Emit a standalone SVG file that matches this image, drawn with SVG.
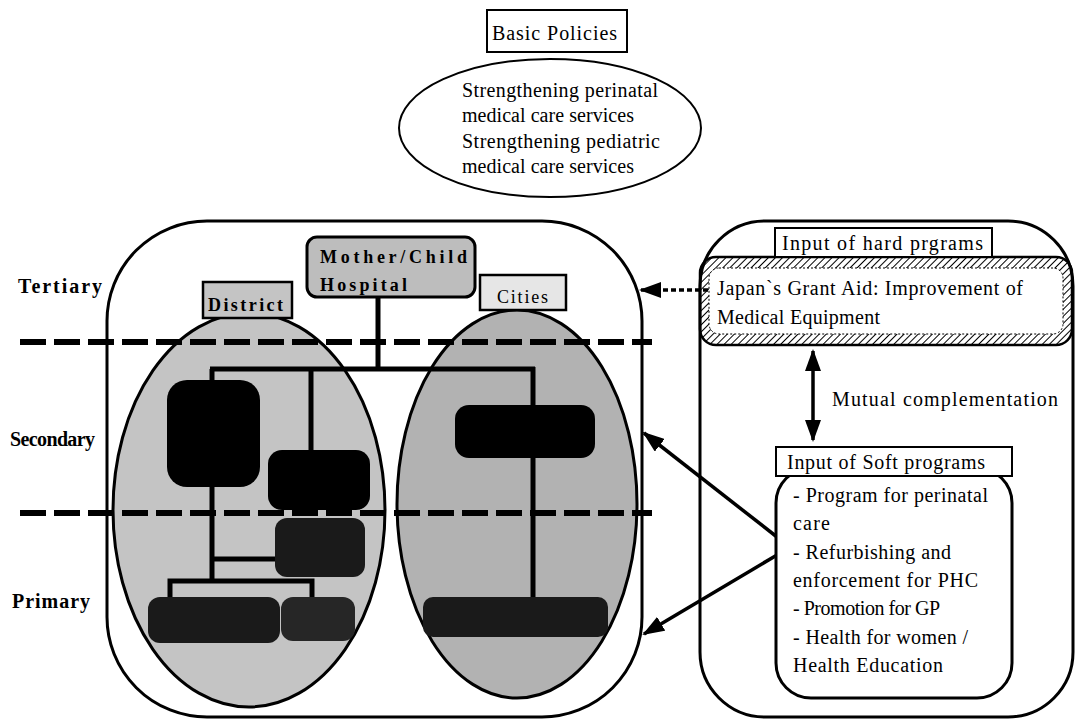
<svg xmlns="http://www.w3.org/2000/svg" width="1075" height="722" viewBox="0 0 1075 722">
<style>
  text { font-family: "Liberation Serif", "Times New Roman", serif; font-size: 20px; fill: #000; }
  .b { font-weight: bold; }
  .lbl { font-size: 18px; }
  .frame { fill: #fff; stroke: #000; stroke-width: 3; }
  .box { fill: #fff; stroke: #000; stroke-width: 2; }
  .conn { stroke: #000; stroke-width: 5; fill: none; }
  .dash { stroke: #000; stroke-width: 6; stroke-dasharray: 26 8; fill: none; }
  .arrow { stroke: #000; stroke-width: 3.5; fill: none; }
  .blk { fill: #000; }
  .dark { fill: #1a1a1a; }
</style>
<defs>
  <marker id="ah" viewBox="0 0 22 16" refX="20" refY="8" markerWidth="22" markerHeight="16" orient="auto-start-reverse" markerUnits="userSpaceOnUse">
    <path d="M0,0 L22,8 L0,16 z" fill="#000"/>
  </marker>
  <pattern id="hatch" width="5" height="5" patternUnits="userSpaceOnUse" patternTransform="rotate(45)">
    <line x1="0" y1="0" x2="0" y2="5" stroke="#000" stroke-width="2"/>
  </pattern>
</defs>
<rect width="1075" height="722" fill="#fff"/>

<g id="basic-policies">
  <rect class="box" x="487" y="10" width="140" height="42"/>
  <text x="492" y="40" textLength="125" lengthAdjust="spacing">Basic Policies</text>
</g>
<g id="policies">
  <ellipse cx="550" cy="128" rx="151" ry="69" fill="#fff" stroke="#000" stroke-width="2"/>
  <text x="462" y="97" textLength="196" lengthAdjust="spacing">Strengthening perinatal</text>
  <text x="462" y="122" textLength="172" lengthAdjust="spacing">medical care services</text>
  <text x="462" y="148" textLength="198" lengthAdjust="spacing">Strengthening pediatric</text>
  <text x="462" y="173" textLength="172" lengthAdjust="spacing">medical care services</text>
</g>

<g id="levels">
  <text class="b" x="18" y="293" textLength="84" lengthAdjust="spacing">Tertiary</text>
  <text class="b" x="10" y="446" textLength="85" lengthAdjust="spacing">Secondary</text>
  <text class="b" x="12" y="608" textLength="78" lengthAdjust="spacing">Primary</text>
</g>

<g id="health-system">
  <rect class="frame" x="107" y="221" width="535" height="496" rx="100" ry="100"/>
</g>
<g id="inputs-panel">
  <rect class="frame" x="700" y="221" width="373" height="496" rx="65" ry="65"/>
</g>

<g id="district-area">
  <ellipse cx="249" cy="510" rx="136" ry="197" fill="#c4c4c4" stroke="#000" stroke-width="3"/>
</g>
<g id="cities-area">
  <ellipse cx="517" cy="504" rx="120" ry="194" fill="#b2b2b2" stroke="#000" stroke-width="3"/>
</g>

<g id="level-lines">
  <line class="dash" x1="20" y1="342" x2="652" y2="342"/>
  <line class="dash" x1="20" y1="513" x2="652" y2="513"/>
</g>

<g id="connectors">
  <line class="conn" x1="378" y1="297" x2="378" y2="369"/>
  <line class="conn" x1="210" y1="369" x2="535" y2="369"/>
  <line class="conn" x1="212" y1="369" x2="212" y2="583"/>
  <line class="conn" x1="311" y1="369" x2="311" y2="452"/>
  <line class="conn" x1="533" y1="367" x2="533" y2="598"/>
  <line class="conn" x1="212" y1="559" x2="276" y2="559"/>
  <polyline class="conn" points="170,598 170,581 312,581 312,598"/>
  <line class="arrow" x1="777" y1="537" x2="644" y2="433" marker-end="url(#ah)"/>
  <line class="arrow" x1="777" y1="555" x2="644" y2="634" marker-end="url(#ah)"/>
  <line class="arrow" x1="708" y1="290" x2="641" y2="290" stroke-dasharray="5 3" marker-end="url(#ah)"/>
  <line class="arrow" x1="813" y1="351" x2="813" y2="440" marker-start="url(#ah)" marker-end="url(#ah)"/>
</g>

<g id="mother-child-hospital">
  <rect x="307" y="237" width="168" height="60" rx="10" fill="#bdbdbd" stroke="#000" stroke-width="3"/>
  <text class="b lbl" x="320" y="263" textLength="147" lengthAdjust="spacing">Mother/Child</text>
  <text class="b lbl" x="320" y="291" textLength="87" lengthAdjust="spacing">Hospital</text>
</g>
<g id="district-label">
  <rect x="203" y="282" width="89" height="36" fill="#c4c4c4" stroke="#000" stroke-width="2.5"/>
  <text class="b lbl" x="208" y="311" textLength="75" lengthAdjust="spacing">District</text>
</g>
<g id="cities-label">
  <rect x="480" y="275" width="86" height="35" fill="#e6e6e6" stroke="#000" stroke-width="2.5"/>
  <text class="lbl" x="497" y="303" textLength="51" lengthAdjust="spacing">Cities</text>
</g>

<g id="district-secondary-1"><rect class="blk" x="167" y="380" width="93" height="107" rx="20"/></g>
<g id="district-secondary-2"><rect class="blk" x="268" y="450" width="102" height="60" rx="14"/></g>
<g id="district-center"><rect class="dark" x="275" y="518" width="90" height="59" rx="12"/></g>
<g id="district-primary-1"><rect class="dark" x="148" y="597" width="132" height="46" rx="12"/></g>
<g id="district-primary-2"><rect x="281" y="597" width="74" height="44" rx="12" fill="#262626"/></g>
<g id="cities-secondary"><rect class="blk" x="455" y="405" width="140" height="53" rx="14"/></g>
<g id="cities-primary"><rect class="dark" x="423" y="597" width="185" height="40" rx="10"/></g>

<g id="hard-programs">
  <rect x="700" y="257" width="372" height="88" rx="16" fill="url(#hatch)" stroke="#000" stroke-width="2.5"/>
  <rect x="709" y="268" width="354" height="66" rx="10" fill="#fff" stroke="#000" stroke-width="1" stroke-dasharray="2 2"/>
  <rect class="box" x="775" y="228" width="217" height="29"/>
  <text x="782" y="250" textLength="201" lengthAdjust="spacing">Input of hard prgrams</text>
  <text x="717" y="295" textLength="306" lengthAdjust="spacing">Japan`s Grant Aid: Improvement of</text>
  <text x="717" y="324" textLength="163" lengthAdjust="spacing">Medical Equipment</text>
</g>
<g id="mutual">
  <text x="832" y="406" textLength="226" lengthAdjust="spacing">Mutual complementation</text>
</g>
<g id="soft-programs">
  <rect x="776" y="468" width="236" height="230" rx="35" fill="#fff" stroke="#000" stroke-width="3"/>
  <rect class="box" x="776" y="447" width="236" height="29"/>
  <text x="787" y="469" textLength="198" lengthAdjust="spacing">Input of Soft programs</text>
  <text x="793" y="502" textLength="195" lengthAdjust="spacing">- Program for perinatal</text>
  <text x="793" y="530" textLength="37" lengthAdjust="spacing">care</text>
  <text x="793" y="559" textLength="158" lengthAdjust="spacing">- Refurbishing and</text>
  <text x="793" y="587" textLength="185" lengthAdjust="spacing">enforcement for PHC</text>
  <text x="793" y="615" textLength="147" lengthAdjust="spacing">- Promotion for GP</text>
  <text x="793" y="644" textLength="175" lengthAdjust="spacing">- Health for women /</text>
  <text x="793" y="672" textLength="150" lengthAdjust="spacing">Health Education</text>
</g>
</svg>
